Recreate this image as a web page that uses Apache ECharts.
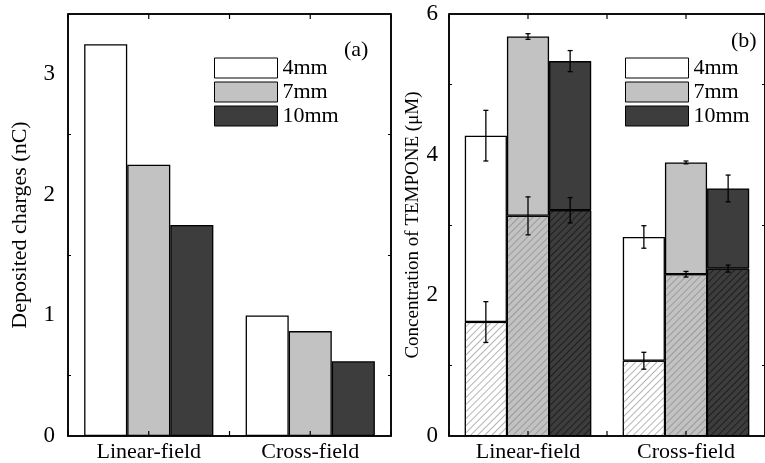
<!DOCTYPE html>
<html>
<head>
<meta charset="utf-8">
<script src="https://cdn.jsdelivr.net/npm/echarts@6/dist/echarts.min.js"></script>
<style>
  html, body { margin: 0; padding: 0; background: #fff; }
  #chart { width: 765px; height: 463px; }
</style>
</head>
<body>
<div id="chart"></div>
<script>
var categories = ['Linear-field', 'Cross-field'];
var sizes = ['4mm', '7mm', '10mm'];

// panel (a): deposited charges (nC)
var charge4 = [3.25, 1.00];
var charge7 = [2.25, 0.87];
var charge10 = [1.75, 0.62];

// panel (b): concentration of TEMPONE (uM), total bar height and hatched part
var total4 = [4.27, 2.83];
var total7 = [5.68, 3.89];
var total10 = [5.33, 3.52];
var totalErr4 = [0.36, 0.16];
var totalErr7 = [0.04, 0.02];
var totalErr10 = [0.15, 0.19];
var hatch4 = [1.62, 1.07];
var hatch7 = [3.13, 2.30];
var hatch10 = [3.21, 2.38];
var hatchErr4 = [0.29, 0.12];
var hatchErr7 = [0.27, 0.04];
var hatchErr10 = [0.18, 0.05];

var fills = ['#ffffff', '#c2c2c2', '#3d3d3d'];
var hatchInk = ['#b4b4b4', '#9a9a9a', '#1e1e1e'];
var font = "'Liberation Serif', 'DejaVu Serif', serif";

var chargeData = [charge4, charge7, charge10];
var totals = [total4, total7, total10];
var totalErrs = [totalErr4, totalErr7, totalErr10];
var hatches = [hatch4, hatch7, hatch10];
var hatchErrs = [hatchErr4, hatchErr7, hatchErr10];

var tickStyle = { color: '#000', width: 1.2 };
var lineStyle = { color: '#000', width: 1.5 };

function grid(left) {
  return {
    left: left, top: 14, width: 323, height: 428,
    show: true, borderColor: '#000', borderWidth: 1.5, backgroundColor: 'transparent'
  };
}

function catAxis(g) {
  return {
    type: 'category', data: categories, gridIndex: g, position: 'bottom', boundaryGap: true,
    axisLine: { onZero: false, lineStyle: lineStyle },
    axisTick: { show: false },
    axisLabel: { color: '#000', fontSize: 22, fontFamily: font, margin: 5 }
  };
}

function yAxes(g, max, interval, name, nameSize, nameGap, labelMargin) {
  var tick = { inside: true, length: 5, lineStyle: tickStyle };
  var minor = { show: true, splitNumber: 2, length: 3, lineStyle: { color: '#000', width: 1 } };
  return [
    {
      type: 'value', gridIndex: g, position: 'left', min: 0, max: max, interval: interval, z: 10,
      name: name, nameLocation: 'middle', nameGap: nameGap,
      nameTextStyle: { color: '#000', fontSize: nameSize, fontFamily: font },
      axisLine: { show: true, onZero: false, lineStyle: lineStyle },
      axisTick: tick, minorTick: minor, splitLine: { show: false },
      axisLabel: { color: '#000', fontSize: 23, fontFamily: font, margin: labelMargin, showMaxLabel: max % interval === 0 }
    },
    {
      type: 'value', gridIndex: g, position: 'right', min: 0, max: max, interval: interval, z: 10,
      axisLine: { show: true, onZero: false, lineStyle: lineStyle },
      axisTick: tick, minorTick: minor, splitLine: { show: false },
      axisLabel: { show: false }
    }
  ];
}

function errorBars(values, errs, yAxisIndex, xAxisIndex, name) {
  var data = [];
  for (var k = 0; k < 3; k++) {
    for (var c = 0; c < categories.length; c++) {
      data.push([c, values[k][c], errs[k][c], k]);
    }
  }
  return {
    type: 'custom', name: name, xAxisIndex: xAxisIndex, yAxisIndex: yAxisIndex, z: 10,
    dimensions: ['x', 'y', 'err', 'k'], encode: { x: 0, y: 1 },
    data: data,
    renderItem: function (params, api) {
      var k = api.value(3);
      var c = api.coord([api.value(0), api.value(1)]);
      var band = api.size([1, 0])[0];
      var x = c[0] + (k - 1) * band * 0.8 / 3;
      var hi = api.coord([api.value(0), api.value(1) + api.value(2)])[1];
      var lo = api.coord([api.value(0), api.value(1) - api.value(2)])[1];
      var cw = 2.5;
      var st = { stroke: '#000', lineWidth: 1.3 };
      return {
        type: 'group',
        children: [
          { type: 'line', shape: { x1: x, y1: hi, x2: x, y2: lo }, style: st },
          { type: 'line', shape: { x1: x - cw, y1: hi, x2: x + cw, y2: hi }, style: st },
          { type: 'line', shape: { x1: x - cw, y1: lo, x2: x + cw, y2: lo }, style: st }
        ]
      };
    }
  };
}

var series = [];
for (var k = 0; k < 3; k++) {
  series.push({
    type: 'bar', name: sizes[k], xAxisIndex: 0, yAxisIndex: 0,
    data: chargeData[k], barGap: 0, barCategoryGap: '20%',
    itemStyle: { color: fills[k], borderColor: '#000', borderWidth: 1.3 }
  });
}
for (var k = 0; k < 3; k++) {
  var upper = totals[k].map(function (t, i) { return +(t - hatches[k][i]).toFixed(3); });
  series.push({
    type: 'bar', name: sizes[k] + ' hatched', xAxisIndex: 1, yAxisIndex: 2, stack: 's' + k,
    data: hatches[k], barGap: 0, barCategoryGap: '20%',
    itemStyle: {
      color: fills[k], borderColor: '#000', borderWidth: 1,
      decal: { symbol: 'rect', symbolSize: 1, dashArrayX: [1, 0], dashArrayY: [0.8, 3.4], rotation: -Math.PI / 4, color: hatchInk[k] }
    }
  });
  series.push({
    type: 'bar', name: sizes[k], xAxisIndex: 1, yAxisIndex: 2, stack: 's' + k,
    data: upper, barGap: 0, barCategoryGap: '20%',
    itemStyle: { color: fills[k], borderColor: '#000', borderWidth: 1.3 }
  });
}
series.push(errorBars(totals, totalErrs, 2, 1, 'err total'));
series.push(errorBars(hatches, hatchErrs, 2, 1, 'err hatched'));

function legendAt(left) {
  return {
    left: left, top: 52, orient: 'vertical', icon: 'rect',
    itemWidth: 63, itemHeight: 20, itemGap: 2,
    data: sizes, selectedMode: false,
    itemStyle: { borderColor: '#000', borderWidth: 1 },
    textStyle: { color: '#000', fontSize: 22, fontFamily: font }
  };
}

var labels = [
  { type: 'text', left: 344, top: 39, style: { text: '(a)', fontSize: 22, fontFamily: font, fill: '#000' } },
  { type: 'text', left: 731, top: 30, style: { text: '(b)', fontSize: 22, fontFamily: font, fill: '#000' } }
];

var chart = echarts.init(document.getElementById('chart'));
chart.setOption({
  animation: false,
  backgroundColor: '#fff',
  grid: [grid(68), grid(449)],
  xAxis: [catAxis(0), catAxis(1)],
  yAxis: yAxes(0, 3.5, 1, 'Deposited charges (nC)', 22, 37, 13)
    .concat(yAxes(1, 6, 2, 'Concentration of TEMPONE (\u03bcM)', 19, 26, 11)),
  legend: [legendAt(209), legendAt(620)],
  graphic: labels,
  series: series
});

// top frame line and inside ticks (category centres and band edges), placed from the axis scale
var frame = [];
[[0, 0], [1, 2]].forEach(function (p) {
  var x0 = chart.convertToPixel({ xAxisIndex: p[0] }, 0);
  var x1 = chart.convertToPixel({ xAxisIndex: p[0] }, 1);
  var band = x1 - x0;
  var yAx = chart.getModel().getComponent('yAxis', p[1]);
  var yTop = chart.convertToPixel({ yAxisIndex: p[1] }, yAx.get('max'));
  var yBot = chart.convertToPixel({ yAxisIndex: p[1] }, 0);
  var left = x0 - band / 2;
  frame.push({ type: 'line', z: 100, shape: { x1: left, y1: yTop, x2: left + band * categories.length, y2: yTop },
    style: { stroke: '#000', lineWidth: 1.5 } });
  for (var t = 0; t <= categories.length * 2; t++) {
    var x = left + t * band / 2;
    frame.push({ type: 'line', z: 100, shape: { x1: x, y1: yTop, x2: x, y2: yTop + 5 }, style: { stroke: '#000', lineWidth: 1.2 } });
    frame.push({ type: 'line', z: 100, shape: { x1: x, y1: yBot, x2: x, y2: yBot - 5 }, style: { stroke: '#000', lineWidth: 1.2 } });
  }
});
chart.setOption({ graphic: labels.concat(frame) });
</script>
</body>
</html>
